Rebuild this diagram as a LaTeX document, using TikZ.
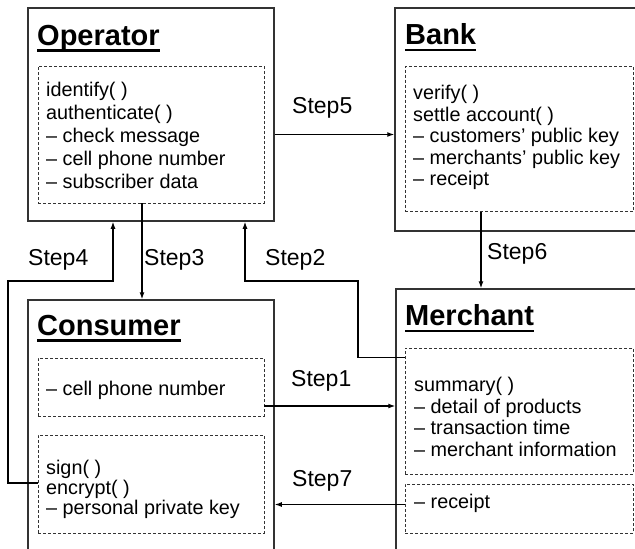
\documentclass[tikz,border=0pt]{standalone}
\usepackage{fontspec}
\setmainfont{Liberation Sans}
\usetikzlibrary{arrows.meta}

\begin{document}
\begin{tikzpicture}[
x = 1pt, y = -1pt,
outrect/.style={rectangle, draw = black!80, line width = 1.5pt, inner sep = 0pt},
fnrect/.style={rectangle, draw = black!80, dash pattern = on 3pt off 2pt, line width = 0.8pt, inner sep = 0pt, minimum width = 226pt},
titletxt/.style={inner sep = 0pt, anchor = base west, font = \fontsize{29}{34}\selectfont\bfseries},
undl/.style={line width = 2.3pt},
bodytxt/.style={inner sep = 0pt, anchor = north west, align = left},
steplbl/.style={inner sep = 0pt, anchor = base west, font = \fontsize{23}{27}\selectfont},
steparr/.style={-{Latex[length = 7pt, width = 5pt]}, line width = 1.2pt}]

\useasboundingbox (0,0) rectangle (635,549);
\clip (0,0) rectangle (635,549);

% the four parties
\node[outrect, minimum width = 246pt, minimum height = 213pt] (Op) at (151,114.5) {};
\node[outrect, minimum width = 270pt, minimum height = 223pt] (Bk) at (530,119.5) {};
\node[outrect, minimum width = 246pt, minimum height = 270pt] (Co) at (151,435) {};
\node[outrect, minimum width = 270pt, minimum height = 281pt] (Me) at (531,429.5) {};

\node[titletxt] (OpT) at (37,45) {Operator};
\node[titletxt] (BkT) at (405,44.5) {Bank};
\node[titletxt] (CoT) at (37,335) {Consumer};
\node[titletxt] (MeT) at (405,325.5) {Merchant};
\foreach \t in {OpT, BkT, CoT, MeT}
  \draw[undl] ([yshift=-5.5pt]\t.base west) -- ([yshift=-5.5pt]\t.base east);

% dashed function boxes
\node[fnrect, minimum height = 137pt] (OpFn) at (151,134.5) {};
\node[fnrect, minimum width = 228pt, minimum height = 145.5pt] (BkFn) at (519,138.75) {};
\node[fnrect, minimum height = 58pt] (CoNum) at (151,387) {};
\node[fnrect, minimum height = 98pt] (CoFn) at (151,484) {};
\node[fnrect, minimum width = 228pt, minimum height = 126pt] (MeFn) at (519,411) {};
\node[fnrect, minimum width = 228pt, minimum height = 49pt] (MeRc) at (519,508.5) {};

\node[bodytxt, font = \fontsize{19.8}{23}\selectfont] (OpTx) at (46,82)
  {identify( )\\authenticate( )\\– check message\\– cell phone number\\– subscriber data};
\node[bodytxt, font = \fontsize{19.8}{21.5}\selectfont] (BkTx) at (413,85)
  {verify( )\\settle account( )\\– customers’ public key\\– merchants’ public key\\– receipt};
\node[bodytxt, anchor = base west, font = \fontsize{19.8}{23}\selectfont] (CoNumTx) at (46,395.5)
  {– cell phone number};
\node[bodytxt, font = \fontsize{19.8}{20}\selectfont] (CoFnTx) at (46,460)
  {sign( )\\encrypt( )\\– personal private key};
\node[bodytxt, font = \fontsize{19.8}{21.7}\selectfont] (MeTx) at (414,377)
  {summary( )\\– detail of products\\– transaction time\\– merchant information};
\node[bodytxt, anchor = base west, font = \fontsize{19.8}{23}\selectfont] (MeRcTx) at (414,508)
  {– receipt};

% steps
\coordinate (s4) at (8,281);
\coordinate (s2) at (358,281);
\draw[steparr] ([yshift=-19pt]CoNum.east) -- ([yshift=-19pt]CoNum.east -| Me.west);
\draw[steparr] ([yshift=-10pt]MeFn.north west) -| (s2) -| ([xshift=94pt]Op.south);
\draw[steparr] ([xshift=-9pt]OpFn.south) -- ([xshift=-9pt]OpFn.south |- Co.north);
\draw[steparr] ([yshift=1pt]CoFn.west) -| (s4) -| ([xshift=-38pt]Op.south);
\draw[steparr] (OpFn.center -| Op.east) -- (OpFn.center -| Bk.west);
\draw[steparr] ([xshift=-38pt]BkFn.south) -- ([xshift=-38pt]BkFn.south |- Me.north);
\draw[steparr] ([yshift=4pt]MeRc.west) -- ([yshift=4pt]MeRc.west -| Co.east);

\node[steplbl] (L1) at (291,386.5) {Step1};
\node[steplbl] (L2) at (265,265.5) {Step2};
\node[steplbl] (L3) at (144,265.5) {Step3};
\node[steplbl] (L4) at (28,265.5) {Step4};
\node[steplbl] (L5) at (292,113) {Step5};
\node[steplbl] (L6) at (487,259.5) {Step6};
\node[steplbl] (L7) at (292,486.5) {Step7};

\end{tikzpicture}
\end{document}
